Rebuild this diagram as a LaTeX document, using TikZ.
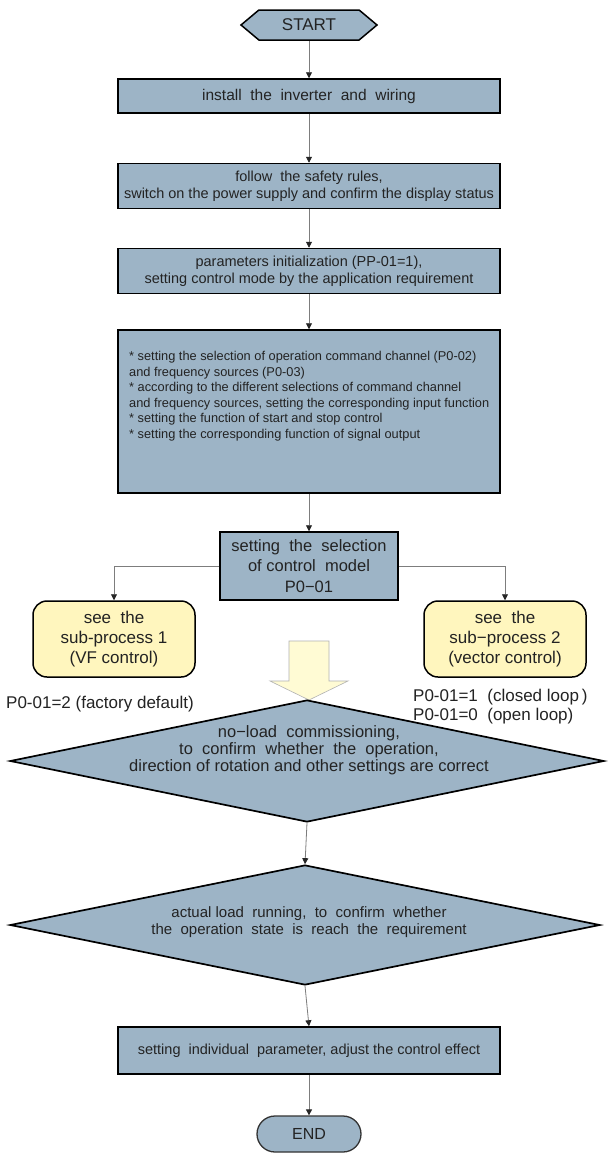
\documentclass[tikz,border=0pt]{standalone}
\usepackage{fontspec}
\setmainfont{Liberation Sans}
\usetikzlibrary{shapes.geometric,shapes.symbols,shapes.misc,arrows.meta}
\definecolor{boxblue}{RGB}{157,180,198}
\definecolor{subyellow}{RGB}{255,246,190}
\definecolor{arrowyellow}{RGB}{255,251,212}
\definecolor{lineg}{RGB}{125,125,125}
\definecolor{txt}{RGB}{35,35,35}
\begin{document}
\begin{tikzpicture}[x=1pt,y=-1pt,
  every node/.style={text=txt},
  mainbox/.style={rectangle, fill=boxblue, draw=black, line width=1.5pt, minimum width=382pt, inner sep=0pt, align=center, font=\fontsize{14.5}{17}\selectfont},
  startbox/.style={signal, signal to=east and west, signal pointer angle=80, fill=boxblue, draw=black, line width=1.5pt, minimum width=136pt, minimum height=30pt, inner sep=0pt, font=\fontsize{17}{19}\selectfont},
  endbox/.style={rounded rectangle, fill=boxblue, draw=black!80, line width=1.3pt, minimum width=104pt, minimum height=36pt, inner sep=0pt, font=\fontsize{16}{18}\selectfont},
  subbox/.style={rectangle, rounded corners=14pt, fill=subyellow, draw=black, line width=1.5pt, minimum width=162pt, minimum height=76pt, inner sep=0pt, align=center, font=\fontsize{17}{20}\selectfont},
  dia/.style={diamond, fill=boxblue, draw=black, line width=1.7pt, inner sep=0pt},
  lbl/.style={font=\fontsize{17}{20}\selectfont, inner sep=0pt},
  conn/.style={draw=lineg, line width=0.8pt, -{Triangle[width=6pt,length=6pt,color=black!85,fill=black!85]}}
]
\fill[white] (0,0) rectangle (609,1159);
\useasboundingbox (0,0) rectangle (609,1159);

\node[startbox] (start) at (309,25) {START};
\node[mainbox, minimum height=34pt, font=\fontsize{15.5}{18}\selectfont] (b1) at (309,96) {install\ \ the\ \ inverter\ \ and\ \ wiring};
\node[mainbox, minimum height=45pt] (b2) at (309,186) {follow\ \ the safety rules,\\switch on the power supply and confirm the display status};
\node[mainbox, minimum height=45pt] (b3) at (309,271) {parameters initialization (PP-01=1),\\setting control mode by the application requirement};
\node[mainbox, minimum height=163pt] (b4) at (309,411.5) {};
\node[anchor=north west, align=left, inner sep=0pt, font=\fontsize{12.8}{15.6}\selectfont] (b4t) at (129,351) {* setting the selection of operation command channel (P0-02)\\and frequency sources (P0-03)\\* according to the different selections of command channel\\and frequency sources, setting the corresponding input function\\* setting the function of start and stop control\\* setting the corresponding function of signal output};
\node[mainbox, minimum width=178pt, minimum height=68pt, font=\fontsize{16.5}{20.5}\selectfont] (ctl) at (309,566) {setting\ \ the\ \ selection\\of control\ \ model\\P0−01};
\node[subbox] (s1) at (114,639) {see\ \ the\\sub-process 1\\(VF control)};
\node[subbox] (s2) at (505,639) {see\ \ the\\sub−process 2\\(vector control)};

\node[lbl, anchor=west] (l1) at (6,704) {P0-01=2 (factory default)};
\node[lbl, anchor=west] (l2) at (413,697) {P0-01=1\ \ (closed loop\,)};
\node[lbl, anchor=west] (l3) at (413,716) {P0-01=0\ \ (open loop)};

\draw[fill=arrowyellow, draw=black!30, line width=0.6pt] (289,641) -- (329,641) -- (329,681) -- (348,681) -- (309,700) -- (270,681) -- (289,681) -- cycle;

\node[dia, minimum width=594pt, minimum height=122pt] (d1) at (307,761) {};
\node[align=center, inner sep=0pt, font=\fontsize{16.5}{17}\selectfont] (d1t) at (309,750) {no−load\ \ commissioning,\\to\ \ confirm\ \ whether\ \ the\ \ operation,\\direction of rotation and other settings are correct};
\node[dia, minimum width=590pt, minimum height=120pt] (d2) at (305,925) {};
\node[align=center, inner sep=0pt, font=\fontsize{15}{17.5}\selectfont] (d2t) at (309,922) {actual load\ \ running,\ \ to\ \ confirm\ \ whether\\the\ \ operation\ \ state\ \ is\ \ reach\ \ the\ \ requirement};

\node[mainbox, minimum height=47pt] (b5) at (309,1050.5) {setting\ \ individual\ \ parameter, adjust the control effect};
\node[endbox] (end) at (309,1134) {END};

\draw[conn] (start.south) -- (b1.north);
\draw[conn] (b1.south) -- (b2.north);
\draw[conn] (b2.south) -- (b3.north);
\draw[conn] (b3.south) -- (b4.north);
\draw[conn] (b4.south) -- (ctl.north);
\draw[conn] (ctl.west) -| (s1.north);
\draw[conn] (ctl.east) -| (s2.north);
\draw[conn] (d1.south) -- (d2.north);
\draw[conn] (d2.south) -- (b5.north);
\draw[conn] (b5.south) -- (end.north);
\end{tikzpicture}
\end{document}
